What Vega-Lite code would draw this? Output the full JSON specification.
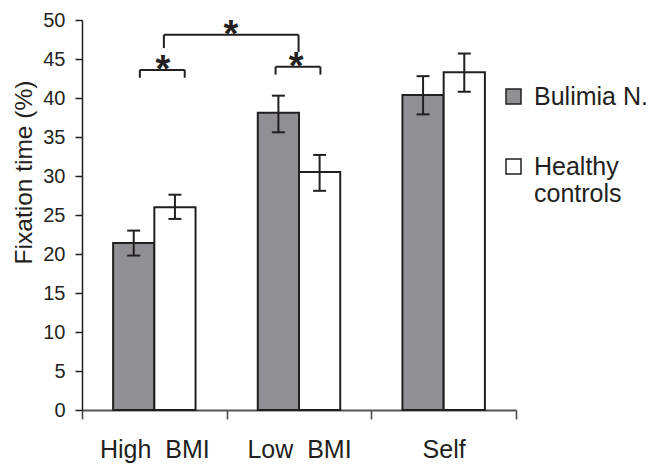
{
  "$schema": "https://vega.github.io/schema/vega-lite/v6.json",
  "width": 434,
  "height": 390,
  "autosize": {"type": "none"},
  "padding": {"left": 82, "top": 20, "right": 135, "bottom": 54},
  "background": "white",
  "config": {
    "view": {"stroke": null},
    "font": "Liberation Sans",
    "axis": {"grid": false}
  },
  "datasets": {
    "bars": [
      {"cond": "High BMI", "group": "Bulimia N.", "mean": 21.4, "lo": 19.8, "hi": 23.0},
      {"cond": "High BMI", "group": "Healthy controls", "mean": 26.0, "lo": 24.5, "hi": 27.6},
      {"cond": "Low BMI", "group": "Bulimia N.", "mean": 38.1, "lo": 35.6, "hi": 40.3},
      {"cond": "Low BMI", "group": "Healthy controls", "mean": 30.5, "lo": 28.1, "hi": 32.7},
      {"cond": "Self", "group": "Bulimia N.", "mean": 40.4, "lo": 37.9, "hi": 42.8},
      {"cond": "Self", "group": "Healthy controls", "mean": 43.3, "lo": 40.8, "hi": 45.7}
    ],
    "sig": [
      {"id": "b1", "from": "High BMI", "to": "High BMI", "y": 43.6, "legL": 42.6, "legR": 42.6},
      {"id": "b2", "from": "Low BMI", "to": "Low BMI", "y": 44.0, "legL": 43.0, "legR": 43.0},
      {"id": "b3", "from": "High BMI", "to": "Low BMI", "y": 48.1, "legL": 46.4, "legR": 45.9}
    ]
  },
  "layer": [
    {
      "data": {"name": "bars"},
      "mark": {"type": "bar", "stroke": "#231f20", "strokeWidth": 2},
      "encoding": {
        "x": {
          "field": "cond", "type": "nominal",
          "scale": {"paddingInner": 0, "paddingOuter": 0},
          "axis": {
            "title": null, "labelAngle": 0, "tickBand": "extent",
            "tickSize": 9, "tickWidth": 1.5, "tickColor": "#444",
            "domainColor": "#555", "domainWidth": 2,
            "labelFontSize": 25, "labelColor": "#231f20", "labelPadding": 18,
            "labelFont": "Liberation Sans",
            "labelExpr": "replace(datum.label, ' ', '\u00a0\u00a0')"
          }
        },
        "xOffset": {"field": "group", "type": "nominal", "scale": {"paddingInner": 0, "paddingOuter": 0.755}},
        "y": {
          "field": "mean", "type": "quantitative",
          "scale": {"domain": [0, 50], "nice": false},
          "axis": {
            "title": "Fixation time (%)",
            "values": [0, 5, 10, 15, 20, 25, 30, 35, 40, 45, 50],
            "tickCount": 12,
            "labelOverlap": false,
            "tickSize": 7, "tickWidth": 1.5, "tickColor": "#231f20",
            "domainColor": "#231f20", "domainWidth": 1.5,
            "labelFontSize": 20, "labelColor": "#231f20", "labelPadding": 10,
            "labelFont": "Liberation Sans",
            "titleFont": "Liberation Sans", "titleFontSize": 24.5, "titleFontWeight": "normal",
            "titleColor": "#231f20", "titleX": -58, "titleY": 152,
            "titleAngle": -90, "titleAlign": "center", "titleBaseline": "middle"
          }
        },
        "color": {
          "field": "group", "type": "nominal",
          "scale": {"domain": ["Bulimia N.", "Healthy controls"], "range": ["#909094", "#ffffff"]},
          "legend": {
            "orient": "none", "legendX": 419, "legendY": 64, "title": null, "padding": 0,
            "symbolType": "square", "symbolSize": 225,
            "symbolStrokeColor": "#231f20", "symbolStrokeWidth": 1.5,
            "labelFontSize": 25, "labelColor": "#231f20", "labelFont": "Liberation Sans",
            "labelOffset": 8, "rowPadding": 44, "labelLimit": 300,
            "labelExpr": "datum.label == 'Healthy controls' ? ['Healthy', 'controls'] : datum.label"
          }
        }
      }
    },
    {
      "data": {"name": "bars"},
      "mark": {"type": "rule", "color": "#231f20", "strokeWidth": 2},
      "encoding": {
        "x": {"field": "cond", "type": "nominal"},
        "xOffset": {"field": "group", "type": "nominal"},
        "y": {"field": "lo", "type": "quantitative"},
        "y2": {"field": "hi"}
      }
    },
    {
      "data": {"name": "bars"},
      "mark": {"type": "tick", "orient": "horizontal", "size": 13, "thickness": 2, "color": "#231f20", "opacity": 1},
      "encoding": {
        "x": {"field": "cond", "type": "nominal"},
        "xOffset": {"field": "group", "type": "nominal"},
        "y": {"field": "lo", "type": "quantitative"}
      }
    },
    {
      "data": {"name": "bars"},
      "mark": {"type": "tick", "orient": "horizontal", "size": 13, "thickness": 2, "color": "#231f20", "opacity": 1},
      "encoding": {
        "x": {"field": "cond", "type": "nominal"},
        "xOffset": {"field": "group", "type": "nominal"},
        "y": {"field": "hi", "type": "quantitative"}
      }
    },
    {
      "data": {"name": "sig"},
      "transform": [{"filter": "datum.id == 'b1'"}],
      "encoding": {"y": {"field": "y", "type": "quantitative"}},
      "layer": [
        {"mark": {"type": "rule", "color": "#231f20", "strokeWidth": 2},
         "encoding": {"x": {"field": "from", "type": "nominal", "bandPosition": 0.40}, "x2": {"field": "to", "bandPosition": 0.71}}},
        {"mark": {"type": "rule", "color": "#231f20", "strokeWidth": 2},
         "encoding": {"x": {"field": "from", "type": "nominal", "bandPosition": 0.40}, "y2": {"field": "legL"}}},
        {"mark": {"type": "rule", "color": "#231f20", "strokeWidth": 2},
         "encoding": {"x": {"field": "to", "type": "nominal", "bandPosition": 0.71}, "y2": {"field": "legR"}}},
        {"mark": {"type": "text", "text": "*", "fontSize": 38, "fontWeight": "bold", "color": "#231f20", "baseline": "alphabetic", "align": "center", "dy": 12},
         "encoding": {"x": {"field": "from", "type": "nominal", "bandPosition": 0.56}}}
      ]
    },
    {
      "data": {"name": "sig"},
      "transform": [{"filter": "datum.id == 'b2'"}],
      "encoding": {"y": {"field": "y", "type": "quantitative"}},
      "layer": [
        {"mark": {"type": "rule", "color": "#231f20", "strokeWidth": 2},
         "encoding": {"x": {"field": "from", "type": "nominal", "bandPosition": 0.338}, "x2": {"field": "to", "bandPosition": 0.648}}},
        {"mark": {"type": "rule", "color": "#231f20", "strokeWidth": 2},
         "encoding": {"x": {"field": "from", "type": "nominal", "bandPosition": 0.338}, "y2": {"field": "legL"}}},
        {"mark": {"type": "rule", "color": "#231f20", "strokeWidth": 2},
         "encoding": {"x": {"field": "to", "type": "nominal", "bandPosition": 0.648}, "y2": {"field": "legR"}}},
        {"mark": {"type": "text", "text": "*", "fontSize": 38, "fontWeight": "bold", "color": "#231f20", "baseline": "alphabetic", "align": "center", "dy": 12},
         "encoding": {"x": {"field": "from", "type": "nominal", "bandPosition": 0.48}}}
      ]
    },
    {
      "data": {"name": "sig"},
      "transform": [{"filter": "datum.id == 'b3'"}],
      "encoding": {"y": {"field": "y", "type": "quantitative"}},
      "layer": [
        {"mark": {"type": "rule", "color": "#231f20", "strokeWidth": 2},
         "encoding": {"x": {"field": "from", "type": "nominal", "bandPosition": 0.566}, "x2": {"field": "to", "bandPosition": 0.497}}},
        {"mark": {"type": "rule", "color": "#231f20", "strokeWidth": 2},
         "encoding": {"x": {"field": "from", "type": "nominal", "bandPosition": 0.566}, "y2": {"field": "legL"}}},
        {"mark": {"type": "rule", "color": "#231f20", "strokeWidth": 2},
         "encoding": {"x": {"field": "to", "type": "nominal", "bandPosition": 0.497}, "y2": {"field": "legR"}}},
        {"mark": {"type": "text", "text": "*", "fontSize": 38, "fontWeight": "bold", "color": "#231f20", "baseline": "alphabetic", "align": "center", "dy": 12},
         "encoding": {"x": {"field": "to", "type": "nominal", "bandPosition": 0.03}}}
      ]
    }
  ]
}
